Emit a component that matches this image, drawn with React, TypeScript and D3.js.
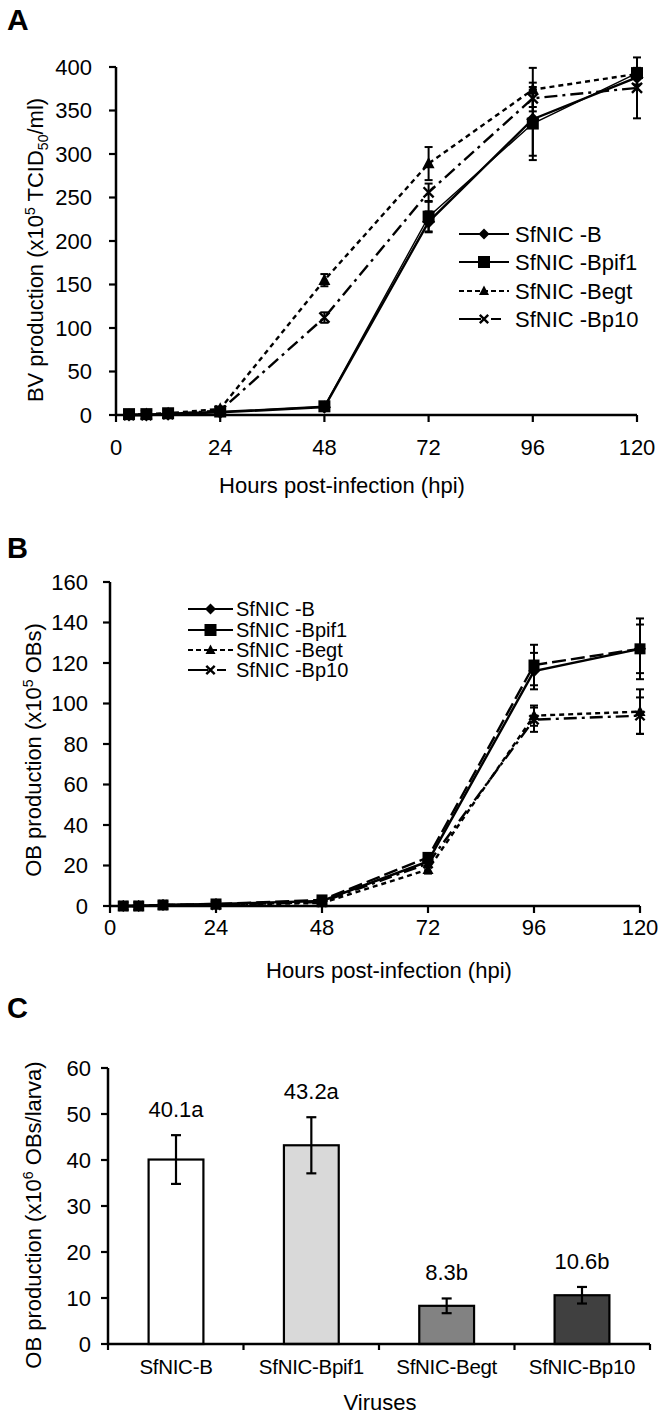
import React from "react";
import * as d3 from "d3";

// ---------- Data ----------
const seriesNames = ["SfNIC -B", "SfNIC -Bpif1", "SfNIC -Begt", "SfNIC -Bp10"];
const hoursA = [3, 7, 12, 24, 48, 72, 96, 120];
const bvB = [0, 0, 1, 3, 9, 222, 340, 388];
const bvBpif1 = [1, 1, 2, 4, 10, 228, 335, 393];
const bvBegt = [0, 1, 2, 7, 155, 289, 374, 392];
const bvBp10 = [0, 0, 1, 5, 112, 256, 364, 376];
const bvErrB = [0, 0, 0, 1, 2, 12, 42, 8];
const bvErrBpif1 = [0, 0, 0, 1, 3, 17, 42, 6];
const bvErrBegt = [0, 0, 0, 2, 7, 19, 25, 5];
const bvErrBp10 = [0, 0, 0, 2, 6, 10, 10, 35];
const ticksA_y = [0, 50, 100, 150, 200, 250, 300, 350, 400];
const ticksHours = [0, 24, 48, 72, 96, 120];

const hoursB = [3, 6.5, 12, 24, 48, 72, 96, 120];
const obB = [0, 0, 0.5, 1, 2.5, 22, 116, 127];
const obBpif1 = [0, 0, 0.5, 1, 3, 24, 119, 127];
const obBegt = [0, 0, 0.5, 0.5, 1.5, 18, 94, 96];
const obBp10 = [0, 0, 0.5, 0.5, 2, 21, 92, 94];
const obErrB = [0, 0, 0, 0.5, 0.5, 2, 9, 12];
const obErrBpif1 = [0, 0, 0, 0.5, 0.5, 2, 10, 15];
const obErrBegt = [0, 0, 0, 0.5, 0.5, 2, 5, 11];
const obErrBp10 = [0, 0, 0, 0.5, 0.5, 2, 6, 9];
const ticksB_y = [0, 20, 40, 60, 80, 100, 120, 140, 160];

const virusNames = ["SfNIC-B", "SfNIC-Bpif1", "SfNIC-Begt", "SfNIC-Bp10"];
const larvaMeans = [40.1, 43.2, 8.3, 10.6];
const larvaErr = [5.3, 6.1, 1.6, 1.8];
const larvaLetters = ["40.1a", "43.2a", "8.3b", "10.6b"];
const barFills = ["#ffffff", "#d9d9d9", "#828282", "#404040"];
const ticksC_y = [0, 10, 20, 30, 40, 50, 60];

const FONT = "'Liberation Sans', Arial, Helvetica, sans-serif";
const FS = 22;
const markers = ["diamond", "square", "triangle", "x"];

function Marker({ type, x, y, s }: { type: string; x: number; y: number; s: number }) {
  if (type === "square")
    return <rect x={x - s / 2} y={y - s / 2} width={s} height={s} fill="#000" />;
  if (type === "diamond") {
    const h = s * 0.55;
    return <path d={`M${x},${y - h}L${x + h},${y}L${x},${y + h}L${x - h},${y}Z`} fill="#000" />;
  }
  if (type === "triangle") {
    const h = s * 0.5;
    return <path d={`M${x},${y - h * 1.1}L${x + h},${y + h * 0.8}L${x - h},${y + h * 0.8}Z`} fill="#000" />;
  }
  const h = s * 0.42;
  return (
    <path
      d={`M${x - h},${y - h}L${x + h},${y + h}M${x - h},${y + h}L${x + h},${y - h}`}
      stroke="#000"
      strokeWidth={2.4}
      fill="none"
    />
  );
}

type LineCfg = {
  hours: number[];
  series: number[][];
  errors: number[][];
  dash: string[];
  widths: number[];
  xr: [number, number];
  yr: [number, number];
  ydom: [number, number];
  yticks: number[];
  ylabGap: number;
  xlabY: number;
  legend: { x1: number; x2: number; tx: number; ys: number[]; fs: number; dash: string[] };
  markerSize: number;
};

function LinePanel(c: LineCfg) {
  const x = d3.scaleLinear().domain([0, 120]).range(c.xr);
  const y = d3.scaleLinear().domain(c.ydom).range(c.yr);
  const lineGen = d3
    .line<number>()
    .x((_, i) => x(c.hours[i]))
    .y((d) => y(d));
  return (
    <g>
      <line x1={c.xr[0]} x2={c.xr[0]} y1={c.yr[0]} y2={c.yr[1]} stroke="#000" strokeWidth={2.5} />
      {c.yticks.map((t) => (
        <g key={"y" + t}>
          <line x1={c.xr[0] - 7} x2={c.xr[0]} y1={y(t)} y2={y(t)} stroke="#000" strokeWidth={2.2} />
          <text x={c.xr[0] - c.ylabGap} y={y(t)} dy="0.36em" textAnchor="end" fontSize={FS} fontFamily={FONT}>
            {t}
          </text>
        </g>
      ))}
      <line x1={c.xr[0]} x2={c.xr[1]} y1={c.yr[0]} y2={c.yr[0]} stroke="#000" strokeWidth={2.5} />
      {ticksHours.map((t) => (
        <g key={"x" + t}>
          <line x1={x(t)} x2={x(t)} y1={c.yr[0]} y2={c.yr[0] + 7} stroke="#000" strokeWidth={2.2} />
          <text x={x(t)} y={c.xlabY} dy="0.36em" textAnchor="middle" fontSize={FS} fontFamily={FONT}>
            {t}
          </text>
        </g>
      ))}
      {c.series.map((s, i) => (
        <path
          key={"l" + i}
          d={lineGen(s) || ""}
          fill="none"
          stroke="#000"
          strokeWidth={c.widths[i]}
          strokeDasharray={c.dash[i]}
        />
      ))}
      {c.series.map((s, i) =>
        s.map((v, j) =>
          c.errors[i][j] > 0 ? (
            <g key={`e${i}-${j}`} stroke="#000" strokeWidth={2}>
              <line x1={x(c.hours[j])} x2={x(c.hours[j])} y1={y(v - c.errors[i][j])} y2={y(v + c.errors[i][j])} />
              <line x1={x(c.hours[j]) - 4} x2={x(c.hours[j]) + 4} y1={y(v - c.errors[i][j])} y2={y(v - c.errors[i][j])} />
              <line x1={x(c.hours[j]) - 4} x2={x(c.hours[j]) + 4} y1={y(v + c.errors[i][j])} y2={y(v + c.errors[i][j])} />
            </g>
          ) : null
        )
      )}
      {c.series.map((s, i) =>
        s.map((v, j) => <Marker key={`m${i}-${j}`} type={markers[i]} x={x(c.hours[j])} y={y(v)} s={c.markerSize} />)
      )}
      {seriesNames.map((n, i) => (
        <g key={"lg" + i}>
          <line
            x1={c.legend.x1}
            x2={c.legend.x2}
            y1={c.legend.ys[i]}
            y2={c.legend.ys[i]}
            stroke="#000"
            strokeWidth={2.2}
            strokeDasharray={c.legend.dash[i]}
          />
          <Marker type={markers[i]} x={(c.legend.x1 + c.legend.x2) / 2} y={c.legend.ys[i]} s={markers[i] === "square" ? 12 : 10} />
          <text x={c.legend.tx} y={c.legend.ys[i]} dy="0.36em" fontSize={c.legend.fs} fontFamily={FONT}>
            {n}
          </text>
        </g>
      ))}
    </g>
  );
}

function BarPanel() {
  const x = d3.scaleBand().domain(virusNames).range([108, 650]).paddingInner(0.595).paddingOuter(0.3);
  const y = d3.scaleLinear().domain([0, 60]).range([1344, 1068]);
  const bw = x.bandwidth();
  const bounds = [108, 108 + (650 - 108) / 4, 108 + (650 - 108) / 2, 108 + (3 * (650 - 108)) / 4, 650];
  return (
    <g>
      <line x1={108} x2={108} y1={1344} y2={1068} stroke="#000" strokeWidth={2.5} />
      {ticksC_y.map((t) => (
        <g key={"cy" + t}>
          <line x1={101} x2={108} y1={y(t)} y2={y(t)} stroke="#000" strokeWidth={2.2} />
          <text x={91} y={y(t)} dy="0.36em" textAnchor="end" fontSize={FS} fontFamily={FONT}>
            {t}
          </text>
        </g>
      ))}
      {virusNames.map((v, i) => {
        const cx = (x(v) as number) + bw / 2;
        return (
          <g key={v}>
            <rect x={x(v)} y={y(larvaMeans[i])} width={bw} height={y(0) - y(larvaMeans[i])} fill={barFills[i]} stroke="#000" strokeWidth={2.2} />
            <g stroke="#000" strokeWidth={2.2}>
              <line x1={cx} x2={cx} y1={y(larvaMeans[i] - larvaErr[i])} y2={y(larvaMeans[i] + larvaErr[i])} />
              <line x1={cx - 5} x2={cx + 5} y1={y(larvaMeans[i] - larvaErr[i])} y2={y(larvaMeans[i] - larvaErr[i])} />
              <line x1={cx - 5} x2={cx + 5} y1={y(larvaMeans[i] + larvaErr[i])} y2={y(larvaMeans[i] + larvaErr[i])} />
            </g>
            <text x={cx} y={y(larvaMeans[i] + larvaErr[i]) - 26} dy="0.36em" textAnchor="middle" fontSize={FS} fontFamily={FONT}>
              {larvaLetters[i]}
            </text>
            <text x={cx} y={1367} dy="0.36em" textAnchor="middle" fontSize={20.5} fontFamily={FONT} letterSpacing={-0.3}>
              {v}
            </text>
          </g>
        );
      })}
      <line x1={108} x2={650} y1={1344} y2={1344} stroke="#000" strokeWidth={2.5} />
      {bounds.map((b, i) => (
        <line key={"cb" + i} x1={b} x2={b} y1={1344} y2={1350} stroke="#000" strokeWidth={2.2} />
      ))}
      <text x={380} y={1402} dy="0.36em" textAnchor="middle" fontSize={FS} fontFamily={FONT}>
        Viruses
      </text>
    </g>
  );
}

export default function App() {
  return (
    <svg width={664} height={1415} style={{ position: "absolute", left: 0, top: 0, background: "#fff" }}>
      <rect width={664} height={1415} fill="#fff" />
      <text x={7} y={30} fontSize={30} fontWeight="bold" fontFamily={FONT}>A</text>
      <text x={7} y={558} fontSize={29} fontWeight="bold" fontFamily={FONT}>B</text>
      <text x={7} y={1018} fontSize={29} fontWeight="bold" fontFamily={FONT}>C</text>

      <LinePanel
        hours={hoursA}
        series={[bvB, bvBpif1, bvBegt, bvBp10]}
        errors={[bvErrB, bvErrBpif1, bvErrBegt, bvErrBp10]}
        dash={["", "", "5,4", "13,5,3,5"]}
        widths={[2.4, 1.4, 2.4, 2.4]}
        xr={[116, 637]}
        yr={[415, 67]}
        ydom={[0, 400]}
        yticks={ticksA_y}
        ylabGap={24}
        xlabY={447}
        markerSize={12}
        legend={{ x1: 459, x2: 509, tx: 515, ys: [234, 262, 291, 319], fs: 22, dash: ["", "", "5,3", "22,10,10,30"] }}
      />
      <text x={342} y={485} dy="0.36em" textAnchor="middle" fontSize={FS} fontFamily={FONT}>
        Hours post-infection (hpi)
      </text>
      <text transform="translate(35,250) rotate(-90)" textAnchor="middle" fontSize={FS} fontFamily={FONT} dy="0.36em">
        BV production (x10<tspan fontSize={14} dy={-8}>5</tspan>
        <tspan dy={8}> TCID</tspan>
        <tspan fontSize={14} dy={5}>50</tspan>
        <tspan dy={-5}>/ml)</tspan>
      </text>

      <LinePanel
        hours={hoursB}
        series={[obB, obBpif1, obBegt, obBp10]}
        errors={[obErrB, obErrBpif1, obErrBegt, obErrBp10]}
        dash={["", "14,5", "5,4", "13,5,3,5"]}
        widths={[2.4, 2.4, 2.4, 2.4]}
        xr={[110, 640]}
        yr={[906, 582]}
        ydom={[0, 160]}
        yticks={ticksB_y}
        ylabGap={22}
        xlabY={927}
        markerSize={11}
        legend={{ x1: 188, x2: 233, tx: 236, ys: [609, 630, 650, 670], fs: 20, dash: ["", "", "5,3", "20,9,9,30"] }}
      />
      <text x={389} y={970} dy="0.36em" textAnchor="middle" fontSize={FS} fontFamily={FONT}>
        Hours post-infection (hpi)
      </text>
      <text transform="translate(33,750) rotate(-90)" textAnchor="middle" fontSize={FS} fontFamily={FONT} dy="0.36em">
        OB production (x10<tspan fontSize={14} dy={-8}>5</tspan>
        <tspan dy={8}> OBs)</tspan>
      </text>

      <BarPanel />
      <text transform="translate(33,1215) rotate(-90)" textAnchor="middle" fontSize={FS} fontFamily={FONT} dy="0.36em">
        OB production (x10<tspan fontSize={14} dy={-8}>6</tspan>
        <tspan dy={8}> OBs/larva)</tspan>
      </text>
    </svg>
  );
}
